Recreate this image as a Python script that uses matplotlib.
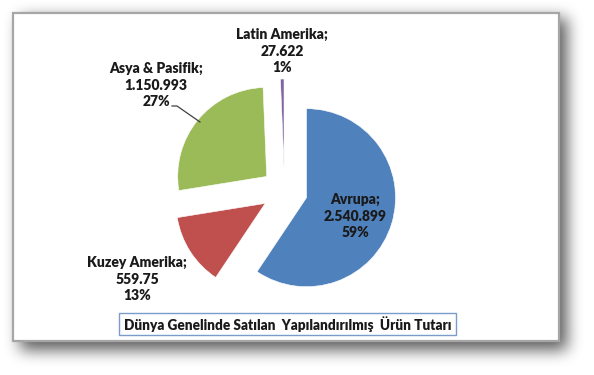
import matplotlib.pyplot as plt
import numpy as np
from matplotlib.patches import Rectangle

plt.rcParams['font.family'] = ['Lato', 'DejaVu Sans']

# data (values in thousands, order clockwise from 12 o'clock)
regions = ["Avrupa", "Kuzey Amerika", "Asya & Pasifik", "Latin Amerika"]
values = [2540.899, 559.750, 1150.993, 27.622]
value_labels = ["2.540.899", "559.75", "1.150.993", "27.622"]
colors = ["#4F81BD", "#C0504D", "#9BBB59", "#8064A2"]
title = "Dünya Genelinde Satılan  Yapılandırılmış  Ürün Tutarı"

W, H = 594, 375
fig = plt.figure(figsize=(W / 100, H / 100), dpi=100)
ax = fig.add_axes([0, 0, 1, 1])


# blurred drop shadow behind the card
def box_blur(a, r):
    k = np.ones(2 * r + 1) / (2 * r + 1)
    a = np.apply_along_axis(lambda m: np.convolve(m, k, mode="same"), 0, a)
    a = np.apply_along_axis(lambda m: np.convolve(m, k, mode="same"), 1, a)
    return a


mask = np.zeros((H, W))
mask[18:350, 20:567] = 1.0
for _ in range(3):
    mask = box_blur(mask, 7)
shadow = np.zeros((H, W, 4))
shadow[..., 3] = mask * 0.65
ax.imshow(shadow, extent=(0, W, H, 0), zorder=0, interpolation="bilinear")

# card
ax.add_patch(Rectangle((13, 13), 546, 328, facecolor="white",
                       edgecolor="#A6A6A6", linewidth=1.6, zorder=1))

# pie (y axis points down, so clockwise on screen = counterclock in data)
pct = np.array(values) / sum(values) * 100
wedges, _ = ax.pie(values, colors=colors, startangle=-90, counterclock=True,
                   center=(284.5, 191), radius=89, explode=[23] * 4,
                   wedgeprops=dict(edgecolor="white", linewidth=0.4))
for w in wedges:
    w.set_zorder(2)

# pie() resets limits; put data coords = pixel coords (y down)
ax.set_xlim(0, W)
ax.set_ylim(H, 0)
ax.set_aspect("equal")
ax.axis("off")

label_pos = [(355, 216), (137, 279), (156, 85), (282, 51)]
for name, vl, p, (x, y) in zip(regions, value_labels, pct, label_pos):
    ax.text(x, y, f"{name};\n{vl}\n{p:.0f}%", ha="center", va="center",
            fontsize=10, fontweight="heavy", color="#1a1a1a",
            linespacing=1.35, zorder=4)

# leader line for Asya & Pasifik
ax.plot([172, 177, 200], [106, 106, 122], color="#404040", lw=0.9, zorder=3)

# title box
ax.add_patch(Rectangle((119, 313), 337, 22, facecolor="white",
                       edgecolor="#7A9CCB", linewidth=1.0, zorder=3))
ax.text(287.5, 324.5, title, ha="center", va="center", fontsize=9.8,
        fontweight="heavy", color="#1a1a1a", zorder=4)

fig.savefig("out.png", dpi=100)
